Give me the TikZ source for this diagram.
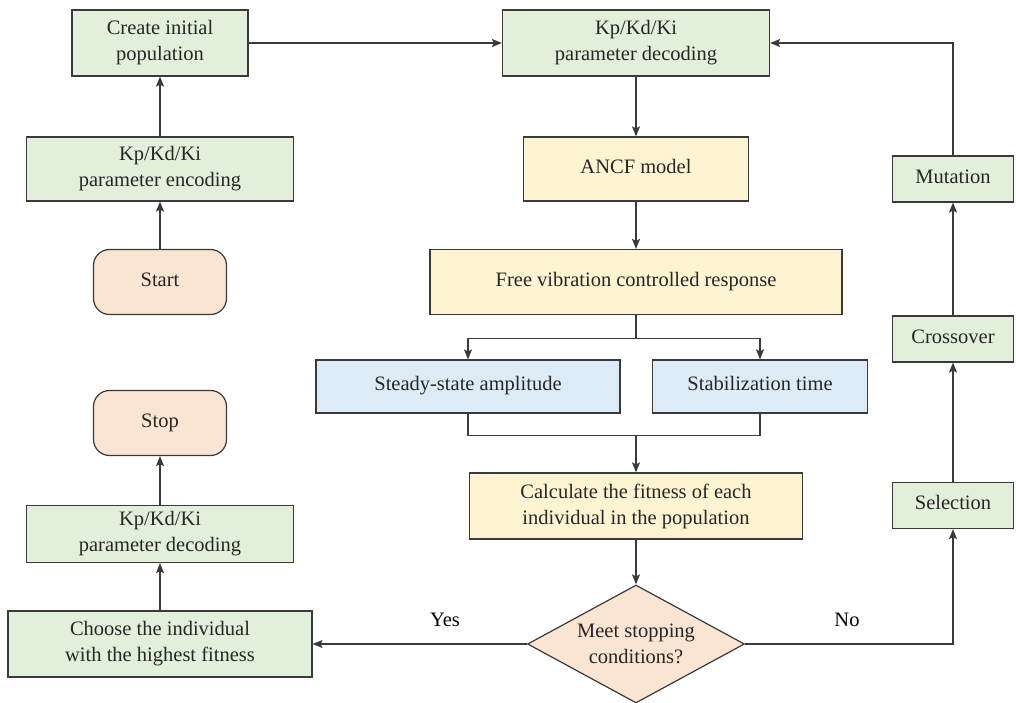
\documentclass[tikz,border=0pt]{standalone}
\usepackage{fontspec}
\setmainfont{Liberation Serif}
\usetikzlibrary{arrows.meta,shapes.geometric,calc}
\definecolor{gfill}{HTML}{E2EFDA}
\definecolor{yfill}{HTML}{FFF4D1}
\definecolor{bfill}{HTML}{DDEBF7}
\definecolor{pfill}{HTML}{FAE4D2}
\definecolor{edge}{HTML}{3A3A3A}
\begin{document}
\begin{tikzpicture}[x=1pt,y=1pt,
  font=\fontsize{20.5}{26}\selectfont,
  base/.style={draw=edge,line width=1.2pt,inner sep=0pt,align=center,text=black!85},
  oneline/.style={text height=0.85em,text depth=0em},
  gbox/.style={base,fill=gfill},
  ybox/.style={base,fill=yfill},
  bbox/.style={base,fill=bfill,oneline},
  term/.style={base,oneline,fill=pfill,rounded corners=16pt,minimum width=133pt,minimum height=65pt},
  dec/.style={base,fill=pfill,diamond,aspect=1.84,minimum width=217pt,minimum height=118pt},
  conn/.style={draw=edge,line width=1.2pt,-{Stealth[length=10pt,width=8pt,inset=2pt]}},
  plain/.style={draw=edge,line width=1.2pt}]
\useasboundingbox (0,0) rectangle (1016,-703);
% left column
\node[gbox,minimum width=176pt,minimum height=66pt] (create) at (160,-43) {Create initial\\population};
\node[gbox,minimum width=267pt,minimum height=64pt] (enc) at (160,-169) {Kp/Kd/Ki\\parameter encoding};
\node[term] (start) at (160,-282) {Start};
\node[term] (stop) at (160,-423) {Stop};
\node[gbox,minimum width=267pt,minimum height=57pt] (decl) at (160,-534) {Kp/Kd/Ki\\parameter decoding};
\node[gbox,minimum width=304pt,minimum height=66pt] (choose) at (160,-644) {Choose the individual\\with the highest fitness};
% middle column
\node[gbox,minimum width=267pt,minimum height=66pt] (dect) at (636,-43) {Kp/Kd/Ki\\parameter decoding};
\node[ybox,oneline,minimum width=225pt,minimum height=64pt] (ancf) at (636,-169) {ANCF model};
\node[ybox,oneline,minimum width=412pt,minimum height=65pt] (free) at (636,-282) {Free vibration controlled response};
\node[bbox,minimum width=304pt,minimum height=53pt] (steady) at (468,-386.5) {Steady-state amplitude};
\node[bbox,minimum width=215pt,minimum height=53pt] (stab) at (760,-386.5) {Stabilization time};
\node[ybox,minimum width=333pt,minimum height=66pt] (calc) at (636,-506) {Calculate the fitness of each\\individual in the population};
\node[dec] (meet) at (636,-644) {Meet stopping\\conditions?};
% right column
\node[gbox,oneline,minimum width=121pt,minimum height=46pt] (mut) at (953,-179) {Mutation};
\node[gbox,oneline,minimum width=121pt,minimum height=46pt] (cross) at (953,-339) {Crossover};
\node[gbox,oneline,minimum width=121pt,minimum height=46pt] (sel) at (953,-505.5) {Selection};
% labels
\node (yes) at (445,-620) {Yes};
\node (no) at (847,-620) {No};
% connectors
\draw[conn] (start) -- (enc);
\draw[conn] (enc) -- (create);
\draw[conn] (create.east) -- (dect.west);
\draw[conn] (dect) -- (ancf);
\draw[conn] (ancf) -- (free);
\coordinate (split) at ($(free.south)+(0,-23)$);
\draw[plain] (free.south) -- (split);
\draw[conn] (split) -| (steady.north);
\draw[conn] (split) -| (stab.north);
\coordinate (merge) at ($(calc.north)+(0,37)$);
\draw[plain] (steady.south) |- (merge) -| (stab.south);
\draw[conn] (merge) -- (calc.north);
\draw[conn] (calc) -- (meet);
\draw[conn] (meet.west) -- (choose.east);
\draw[conn] (meet.east) -| (sel.south);
\draw[conn] (sel) -- (cross);
\draw[conn] (cross) -- (mut);
\draw[conn] (mut.north) |- (dect.east);
\draw[conn] (choose) -- (decl);
\draw[conn] (decl) -- (stop);
\end{tikzpicture}
\end{document}
